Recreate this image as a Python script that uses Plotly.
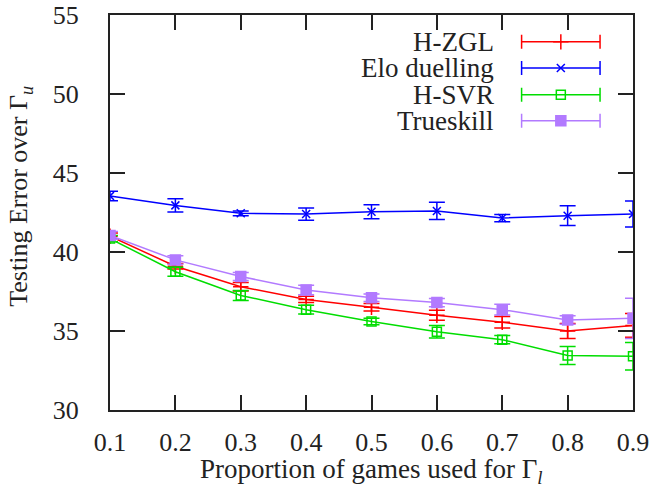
import plotly.graph_objects as go

x_vals = [0.1, 0.2, 0.3, 0.4, 0.5, 0.6, 0.7, 0.8, 0.9]

hzgl = [41.0, 39.1, 37.8, 37.0, 36.5, 36.0, 35.55, 35.0, 35.35]
hzgl_err = [0.2, 0.17, 0.27, 0.2, 0.24, 0.32, 0.36, 0.47, 0.75]

elo = [43.55, 42.95, 42.45, 42.4, 42.55, 42.6, 42.15, 42.3, 42.4]
elo_err = [0.3, 0.42, 0.15, 0.39, 0.44, 0.55, 0.23, 0.63, 0.82]

hsvr = [40.85, 38.75, 37.25, 36.35, 35.6, 34.95, 34.45, 33.45, 33.4]
hsvr_err = [0.2, 0.28, 0.32, 0.28, 0.2, 0.4, 0.26, 0.57, 0.87]

trueskill = [41.05, 39.5, 38.45, 37.6, 37.1, 36.8, 36.35, 35.7, 35.8]
trueskill_err = [0.25, 0.27, 0.25, 0.3, 0.24, 0.26, 0.34, 0.27, 1.27]

series_names = ["H-ZGL", "Elo duelling", "H-SVR", "Trueskill"]
series_vals = [hzgl, elo, hsvr, trueskill]
series_errs = [hzgl_err, elo_err, hsvr_err, trueskill_err]
colors = ["#ff0000", "#0000ff", "#00dd00", "#b27aff"]
symbols = ["cross-thin", "x-thin", "square-open", "square"]
msizes = [11, 8, 9, 10]

y_ticks = [30, 35, 40, 45, 50, 55]

FONT = "Liberation Serif"
FS = 27
FS_TICK = 26

fig = go.Figure()

for name, vals, errs, c, s, ms in zip(series_names, series_vals, series_errs, colors, symbols, msizes):
    fig.add_trace(go.Scatter(
        x=x_vals, y=vals, name=name, mode="lines+markers",
        line=dict(color=c, width=1.5),
        marker=dict(symbol=s, size=ms, color=c, line=dict(color=c, width=1.5)),
        error_y=dict(type="data", array=errs, visible=True, color=c, thickness=1.5, width=8),
        showlegend=False,
    ))

# custom gnuplot-style legend (keys on overlay axes in paper-like units)
leg_y = [0.932, 0.866, 0.798, 0.732]
for name, c, s, ms, ly in zip(series_names, colors, symbols, msizes, leg_y):
    fig.add_trace(go.Scatter(
        x=[0.862], y=[ly], mode="markers", xaxis="x2", yaxis="y2",
        marker=dict(symbol=s, size=ms, color=c, line=dict(color=c, width=1.5)),
        error_x=dict(type="constant", value=0.075, visible=True, color=c, thickness=1.5, width=7),
        showlegend=False, hoverinfo="skip",
    ))
    fig.add_annotation(x=0.738, y=ly, xref="paper", yref="paper", text=name,
                       showarrow=False, xanchor="right", yanchor="middle",
                       font=dict(family=FONT, size=FS, color="#222"))

axis_common = dict(
    showgrid=False, zeroline=False, showline=True, mirror="ticks",
    linecolor="#222", linewidth=2, ticks="inside", ticklen=15,
    tickwidth=1.5, tickcolor="#222", automargin=False,
    tickfont=dict(family=FONT, size=FS_TICK, color="#222"),
)

fig.update_layout(
    width=651, height=485,
    margin=dict(l=110, r=18, t=15, b=75, autoexpand=False),
    paper_bgcolor="white", plot_bgcolor="white",
    xaxis=dict(range=[0.1, 0.9], tickvals=x_vals, ticktext=[f"{v:.1f}" for v in x_vals],
               ticklabelstandoff=8, **axis_common),
    yaxis=dict(range=[30, 55], tickvals=y_ticks, ticklabelstandoff=24, **axis_common),
    xaxis2=dict(overlaying="x", range=[0, 1], visible=False, fixedrange=True),
    yaxis2=dict(overlaying="y", range=[0, 1], visible=False, fixedrange=True),
    showlegend=False,
)

fig.add_annotation(x=0.5, y=-0.155, xref="paper", yref="paper",
                   text="Proportion of games used for Γ<sub><i>l</i></sub>",
                   showarrow=False, xanchor="center", yanchor="middle",
                   font=dict(family=FONT, size=FS, color="#222"))
fig.add_annotation(x=-0.172, y=0.54, xref="paper", yref="paper",
                   text="Testing Error over Γ<sub><i>u</i></sub>", textangle=-90,
                   showarrow=False, xanchor="center", yanchor="middle",
                   font=dict(family=FONT, size=26, color="#222"))

fig.write_html("out.html", config={"displayModeBar": False},
               post_script="document.body.style.margin='0';document.body.style.overflow='hidden';")
